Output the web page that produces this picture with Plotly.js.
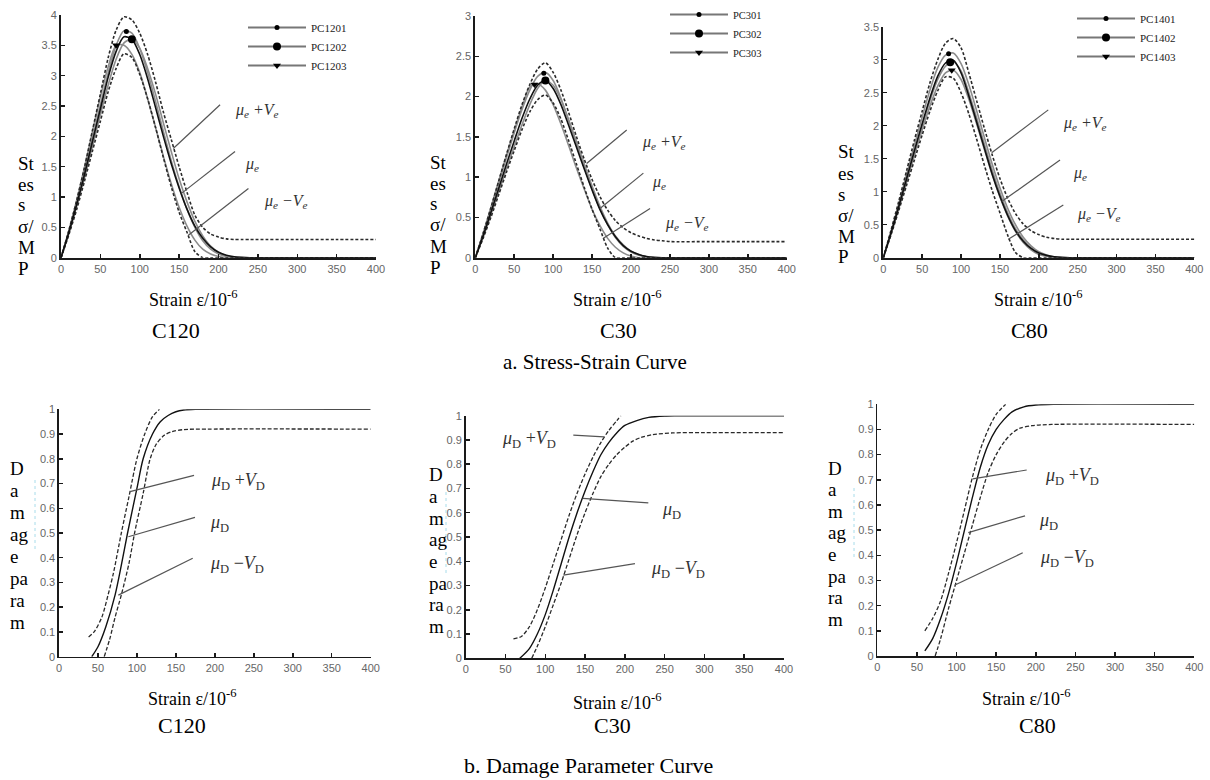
<!DOCTYPE html>
<html><head><meta charset="utf-8">
<script src="https://cdn.plot.ly/plotly-3.0.1.min.js"></script>
<style>html,body{margin:0;padding:0;background:#fff}#chart{width:1210px;height:780px}</style>
</head><body><div id="chart"></div>
<script>
// ---------- DATA ----------
const strainGrid = [0,10,20,30,40,50,60,70,80,90,100,110,120,130,140,150,160,170,180,190,200,210,220,230,240,250,300,350,400];

// C120 stress (MPa)
const c120Upper = [0,0.45,0.95,1.5,2.1,2.7,3.3,3.75,3.97,3.92,3.7,3.35,2.9,2.4,1.95,1.5,1.08,0.7,0.5,0.39,0.34,0.31,0.3,0.3,0.3,0.3,0.3,0.3,0.3];
const c120Mean  = [0,0.42,0.88,1.38,1.92,2.45,2.98,3.4,3.64,3.6,3.35,2.95,2.48,2.0,1.55,1.15,0.8,0.52,0.32,0.18,0.09,0.04,0.015,0.005,0,0,0,0,0];
const c120Lower = [0,0.38,0.8,1.27,1.76,2.25,2.74,3.12,3.36,3.3,3.02,2.62,2.15,1.65,1.17,0.75,0.42,0.1,0,0,0,0,0,0,0,0,0,0,0];
const pc1201 = [0,0.43,0.9,1.42,1.97,2.52,3.05,3.5,3.74,3.7,3.45,3.05,2.58,2.08,1.6,1.17,0.8,0.5,0.28,0.14,0.06,0.02,0,0,0,0,0,0,0];
const pc1202 = [0,0.4,0.85,1.33,1.84,2.36,2.85,3.27,3.54,3.6,3.45,3.12,2.7,2.22,1.75,1.3,0.92,0.6,0.36,0.19,0.09,0.03,0,0,0,0,0,0,0];
const pc1203 = [0,0.45,0.95,1.5,2.08,2.65,3.15,3.5,3.5,3.35,3.05,2.62,2.15,1.67,1.22,0.83,0.52,0.29,0.14,0.06,0.02,0,0,0,0,0,0,0,0];
const c120PeakX = [83,90,70];
const c120PeakY = [3.73,3.6,3.5];
const c120Names = ['PC1201','PC1202','PC1203'];

// C30 stress
const c30Upper = [0,0.3,0.62,0.95,1.28,1.6,1.9,2.15,2.34,2.42,2.3,2.08,1.8,1.5,1.22,0.97,0.76,0.59,0.46,0.37,0.31,0.27,0.24,0.22,0.21,0.2,0.2,0.2,0.2];
const c30Mean  = [0,0.27,0.56,0.86,1.16,1.45,1.73,1.97,2.14,2.2,2.1,1.9,1.64,1.37,1.1,0.84,0.6,0.41,0.26,0.15,0.08,0.04,0.015,0.005,0,0,0,0,0];
const c30Lower = [0,0.24,0.5,0.78,1.06,1.33,1.59,1.81,1.96,2.02,1.92,1.72,1.45,1.16,0.87,0.6,0.36,0.12,0,0,0,0,0,0,0,0,0,0,0];
const pc301 = [0,0.29,0.6,0.92,1.24,1.55,1.84,2.08,2.25,2.3,2.2,1.98,1.7,1.41,1.12,0.85,0.61,0.41,0.25,0.14,0.07,0.03,0.01,0,0,0,0,0,0];
const pc302 = [0,0.25,0.53,0.82,1.1,1.38,1.65,1.9,2.1,2.2,2.14,1.96,1.71,1.44,1.16,0.89,0.64,0.43,0.27,0.16,0.08,0.04,0.01,0,0,0,0,0,0];
const pc303 = [0,0.3,0.62,0.95,1.27,1.58,1.87,2.12,2.16,2.08,1.9,1.66,1.39,1.11,0.85,0.6,0.4,0.24,0.13,0.06,0.02,0,0,0,0,0,0,0,0];
const c30PeakX = [88,90,76];
const c30PeakY = [2.29,2.2,2.15];
const c30Names = ['PC301','PC302','PC303'];

// C80 stress
const c80Upper = [0,0.42,0.86,1.32,1.78,2.22,2.65,3.0,3.25,3.32,3.18,2.8,2.38,1.96,1.56,1.2,0.9,0.67,0.51,0.41,0.35,0.31,0.29,0.28,0.28,0.28,0.28,0.28,0.28];
const c80Mean  = [0,0.38,0.78,1.2,1.62,2.03,2.42,2.75,2.95,2.99,2.8,2.45,2.06,1.66,1.27,0.93,0.64,0.41,0.25,0.14,0.07,0.035,0.015,0.005,0,0,0,0,0];
const c80Lower = [0,0.35,0.72,1.1,1.48,1.86,2.22,2.53,2.74,2.72,2.5,2.18,1.8,1.4,1.02,0.68,0.34,0.08,0,0,0,0,0,0,0,0,0,0,0];
const pc1401 = [0,0.4,0.82,1.26,1.7,2.13,2.54,2.88,3.07,3.1,2.94,2.62,2.23,1.82,1.42,1.06,0.75,0.5,0.31,0.18,0.09,0.04,0.01,0,0,0,0,0,0];
const pc1402 = [0,0.37,0.77,1.18,1.6,2.0,2.38,2.7,2.9,2.97,2.83,2.5,2.12,1.72,1.33,0.98,0.68,0.44,0.27,0.15,0.07,0.03,0.01,0,0,0,0,0,0];
const pc1403 = [0,0.36,0.75,1.15,1.55,1.94,2.3,2.6,2.8,2.84,2.7,2.4,2.03,1.64,1.26,0.92,0.63,0.4,0.23,0.12,0.05,0.02,0,0,0,0,0,0,0];
const c80PeakX = [84,86,88];
const c80PeakY = [3.09,2.96,2.84];
const c80Names = ['PC1401','PC1402','PC1403'];

// Damage parameter, C120
const d120UpX = [38,45,55,63,70,80,90,100,110,120,129];
const d120UpY = [0.08,0.1,0.16,0.25,0.34,0.5,0.65,0.8,0.9,0.97,1.0];
const d120MeanX = [42,50,60,72,80,88,100,108,120,130,140,150,160,175,400];
const d120MeanY = [0,0.04,0.12,0.25,0.37,0.5,0.68,0.8,0.9,0.95,0.975,0.99,0.997,1.0,1.0];
const d120LowX = [58,65,72,80,90,97,108,117,125,135,145,160,190,400];
const d120LowY = [0,0.07,0.16,0.25,0.38,0.5,0.66,0.8,0.86,0.895,0.91,0.918,0.92,0.92];

// Damage parameter, C30
const d30UpX = [60,70,80,90,100,110,120,130,140,150,160,170,180,190,195];
const d30UpY = [0.08,0.09,0.13,0.2,0.29,0.39,0.49,0.59,0.68,0.76,0.83,0.89,0.94,0.98,1.0];
const d30MeanX = [68,80,90,100,110,120,130,140,150,160,170,180,190,200,215,230,250,265,400];
const d30MeanY = [0,0.04,0.1,0.18,0.28,0.39,0.5,0.6,0.69,0.77,0.84,0.89,0.93,0.96,0.98,0.993,0.999,1.0,1.0];
const d30LowX = [83,90,100,110,120,130,140,150,160,170,180,190,200,210,220,235,260,300,400];
const d30LowY = [0,0.05,0.13,0.22,0.31,0.41,0.51,0.6,0.68,0.75,0.8,0.84,0.87,0.895,0.91,0.922,0.929,0.93,0.93];

// Damage parameter, C80
const d80UpX = [60,70,80,90,100,110,120,130,140,150,162];
const d80UpY = [0.1,0.15,0.22,0.33,0.45,0.58,0.71,0.82,0.9,0.96,1.0];
const d80MeanX = [60,70,80,90,100,110,120,130,140,150,160,170,185,200,222,400];
const d80MeanY = [0.02,0.07,0.15,0.25,0.37,0.5,0.63,0.75,0.84,0.9,0.94,0.97,0.99,0.997,1.0,1.0];
const d80LowX = [73,80,90,100,110,120,130,140,150,160,170,180,195,220,400];
const d80LowY = [0,0.07,0.19,0.3,0.41,0.52,0.63,0.73,0.8,0.85,0.885,0.905,0.915,0.92,0.92];

// ---------- LAYOUT HELPERS ----------
const W = 1210, H = 780;
const serif = 'Liberation Serif, Times New Roman, serif';
const px = x => x / W, py = y => 1 - y / H;

function axisPair(xPx0, xPx1, yPx0, yPx1, yMax, yDtick, id) {
  const common = {showline:true, linecolor:'#1a1a1a', linewidth:2, ticks:'inside', ticklen:4,
    tickcolor:'#1a1a1a', tickwidth:1.5, showgrid:false, zeroline:false, mirror:false,
    tickfont:{family:'Liberation Sans, Arial, sans-serif', size:11, color:'#666'}, fixedrange:true};
  const xa = Object.assign({}, common, {domain:[px(xPx0), px(xPx1)], range:[0,400], dtick:50, tick0:0,
    anchor:'y'+(id===1?'':id)});
  const ya = Object.assign({}, common, {domain:[py(yPx1), py(yPx0)], range:[0,yMax], dtick:yDtick, tick0:0,
    anchor:'x'+(id===1?'':id)});
  return [xa, ya];
}

const layout = {width:W, height:H, margin:{l:0,r:0,t:0,b:0}, paper_bgcolor:'#fff', plot_bgcolor:'rgba(0,0,0,0)',
  showlegend:true, annotations:[], shapes:[]};
const panels = [
  [61,376,15,257.7,4,0.5],
  [475.3,786.7,16,257.7,3,0.5],
  [883.3,1194.3,26.7,257.7,3.5,0.5],
  [59,370.7,409.3,656.7,1,0.1],
  [465.7,784,415.7,658.3,1,0.1],
  [877.3,1194.3,404.3,656,1,0.1]
];
panels.forEach((p,i) => {
  const id = i+1;
  const [xa, ya] = axisPair(p[0],p[1],p[2],p[3],p[4],p[5],id);
  if (id >= 4) { xa.linewidth = 1.6; ya.linewidth = 1.6; }
  layout['xaxis'+(id===1?'':id)] = xa;
  layout['yaxis'+(id===1?'':id)] = ya;
});

// ---------- TRACES ----------
const traces = [];
const axRef = id => ({xaxis:'x'+(id===1?'':id), yaxis:'y'+(id===1?'':id)});
const expStyle = {color:'#8c8c8c', width:1.6, shape:'spline', smoothing:0.8};
const dashStyle = {color:'#2a2a2a', width:1.6, dash:'3px,2px', shape:'spline', smoothing:0.8};
const meanStyle = {color:'#111', width:1.6, shape:'spline', smoothing:0.8};
const symbols = [{symbol:'circle', size:5}, {symbol:'circle', size:8}, {symbol:'triangle-down', size:7}];

function stressPanel(id, exps, upper, mean, lower, peakX, peakY, names, legendId) {
  exps.forEach(ys => traces.push(Object.assign({type:'scatter', mode:'lines', x:strainGrid, y:ys,
    line:expStyle, showlegend:false, hoverinfo:'skip'}, axRef(id))));
  [upper, lower].forEach(ys => traces.push(Object.assign({type:'scatter', mode:'lines', x:strainGrid, y:ys,
    line:dashStyle, showlegend:false, hoverinfo:'skip'}, axRef(id))));
  traces.push(Object.assign({type:'scatter', mode:'lines', x:strainGrid, y:mean,
    line:meanStyle, showlegend:false, hoverinfo:'skip'}, axRef(id)));
  names.forEach((n,k) => traces.push(Object.assign({type:'scatter', mode:'lines+markers', name:n,
    x:[peakX[k]], y:[peakY[k]], line:{color:'#777', width:2},
    marker:{color:'#000', symbol:symbols[k].symbol, size:symbols[k].size},
    legend:legendId, legendgroup:n, showlegend:true, hoverinfo:'skip'}, axRef(id))));
}
stressPanel(1, [pc1201,pc1202,pc1203], c120Upper, c120Mean, c120Lower, c120PeakX, c120PeakY, c120Names, 'legend');
stressPanel(2, [pc301,pc302,pc303], c30Upper, c30Mean, c30Lower, c30PeakX, c30PeakY, c30Names, 'legend2');
stressPanel(3, [pc1401,pc1402,pc1403], c80Upper, c80Mean, c80Lower, c80PeakX, c80PeakY, c80Names, 'legend3');

function damagePanel(id, ux, uy, mx, my, lx, ly) {
  const ds = Object.assign({}, dashStyle, {width:1.3, dash:'4px,2px'});
  const ms = Object.assign({}, meanStyle, {width:1.4});
  traces.push(Object.assign({type:'scatter', mode:'lines', x:ux, y:uy, line:ds, showlegend:false, hoverinfo:'skip'}, axRef(id)));
  traces.push(Object.assign({type:'scatter', mode:'lines', x:lx, y:ly, line:ds, showlegend:false, hoverinfo:'skip'}, axRef(id)));
  traces.push(Object.assign({type:'scatter', mode:'lines', x:mx, y:my, line:ms, showlegend:false, hoverinfo:'skip'}, axRef(id)));
}
damagePanel(4, d120UpX, d120UpY, d120MeanX, d120MeanY, d120LowX, d120LowY);
damagePanel(5, d30UpX, d30UpY, d30MeanX, d30MeanY, d30LowX, d30LowY);
damagePanel(6, d80UpX, d80UpY, d80MeanX, d80MeanY, d80LowX, d80LowY);

// ---------- LEGENDS ----------
const legBase = {bgcolor:'rgba(0,0,0,0)', borderwidth:0, xanchor:'left', yanchor:'top', itemwidth:58,
  font:{family:serif, size:11, color:'#222'}, tracegroupgap:0, itemclick:false, itemdoubleclick:false};
layout.legend  = Object.assign({}, legBase, {x:px(243), y:py(13)});
layout.legend2 = Object.assign({}, legBase, {x:px(665), y:py(0), font:{family:serif, size:10.5, color:'#222'}});
layout.legend3 = Object.assign({}, legBase, {x:px(1072), y:py(4)});

// ---------- TEXT ----------
const A = layout.annotations, S = layout.shapes;
function txt(xp, yp, text, size, extra) {
  A.push(Object.assign({xref:'paper', yref:'paper', x:px(xp), y:py(yp), text:text, showarrow:false,
    xanchor:'center', yanchor:'middle', font:{family:serif, size:size, color:'#000'}}, extra||{}));
}
const strainTitle = 'Strain ε/10<sup>-6</sup>';
txt(193,298,strainTitle,18); txt(617,298,strainTitle,18); txt(1038,298,strainTitle,18);
txt(176,330,'C120',22); txt(618,330,'C30',22); txt(1029,330,'C80',22);
txt(595,362,'a. Stress-Strain Curve',21);
txt(192,697,strainTitle,18); txt(617,701,strainTitle,18); txt(1026,697,strainTitle,18);
txt(182,725,'C120',22); txt(612,725,'C30',22); txt(1037,725,'C80',22);
txt(588,765,'b. Damage Parameter Curve',22);

function yLabel(lines, xLeft, yStart, gap, size) {
  lines.forEach((l,i) => txt(xLeft, yStart + i*gap, l, size, {xanchor:'left'}));
}
const stressLines = ['St','es','s','σ/','M','P'];
const damageLines = ['D','a','m','ag','e','pa','ra','m'];
yLabel(stressLines, 16, 163, 21, 19);
yLabel(stressLines, 428, 162, 21, 19);
yLabel(stressLines, 836, 152, 21, 19);
yLabel(damageLines, 8, 468, 22, 19);
yLabel(damageLines, 427, 475, 21.6, 19);
yLabel(damageLines, 826, 468, 21.6, 19);

// curve labels and leader lines (data coordinates)
function curveLabel(id, x, y, text, size) {
  const r = axRef(id);
  A.push({xref:r.xaxis, yref:r.yaxis, x:x, y:y, text:text, showarrow:false, xanchor:'center', yanchor:'middle',
    font:{family:serif, size:size, color:'#333'}});
}
function leader(id, x0, y0, x1, y1) {
  const r = axRef(id);
  S.push({type:'line', xref:r.xaxis, yref:r.yaxis, x0:x0, y0:y0, x1:x1, y1:y1, line:{color:'#555', width:1.2}});
}
const ePlus = '<i>μ<sub>e</sub> +V<sub>e</sub></i>', eMid = '<i>μ<sub>e</sub></i>', eMinus = '<i>μ<sub>e</sub> −V<sub>e</sub></i>';
const dPlus = '<i>μ</i><sub>D</sub> +<i>V</i><sub>D</sub>', dMid = '<i>μ</i><sub>D</sub>', dMinus = '<i>μ</i><sub>D</sub> −<i>V</i><sub>D</sub>';

leader(1,202,2.52,142.6,1.8); leader(1,221,1.75,153,1.06); leader(1,238,1.14,161.7,0.37);
curveLabel(1,249.5,2.43,ePlus,16); curveLabel(1,242.5,1.53,eMid,16); curveLabel(1,286,0.92,eMinus,16);

leader(2,194.5,1.585,143,1.17); leader(2,215.9,1.05,160.2,0.61); leader(2,224.5,0.61,164.5,0.24);
curveLabel(2,243,1.43,ePlus,16); curveLabel(2,236,0.93,eMid,16); curveLabel(2,271.6,0.42,eMinus,16);

leader(3,212.2,2.24,139.4,1.59); leader(3,227.3,1.48,152.3,0.85); leader(3,231.5,0.8,160.8,0.28);
curveLabel(3,259.4,2.04,ePlus,16); curveLabel(3,253,1.28,eMid,16); curveLabel(3,277.4,0.65,eMinus,16);

leader(4,173.3,0.733,91.1,0.667); leader(4,174.5,0.563,89,0.485); leader(4,171.6,0.398,76.1,0.249);
curveLabel(4,230,0.707,dPlus,18); curveLabel(4,206.2,0.539,dMid,18); curveLabel(4,228,0.373,dMinus,18);

leader(5,135.2,0.92,173.8,0.913); leader(5,229.5,0.641,147,0.659); leader(5,212.7,0.39,122.7,0.343);
curveLabel(5,79.8,0.9,dPlus,18); curveLabel(5,258.8,0.611,dMid,18); curveLabel(5,267.2,0.367,dMinus,18);

leader(6,188.5,0.739,120.4,0.704); leader(6,186.4,0.557,114.8,0.49); leader(6,183.5,0.41,98,0.282);
curveLabel(6,245.3,0.715,dPlus,18); curveLabel(6,216.3,0.534,dMid,18); curveLabel(6,239,0.388,dMinus,18);

// faint dotted remnants beside the damage y-labels
[[35,480,550],[446,492,573],[854,488,558]].forEach(v => S.push({type:'line', xref:'paper', yref:'paper',
  x0:px(v[0]), x1:px(v[0]), y0:py(v[1]), y1:py(v[2]), line:{color:'#a8dcea', width:1, dash:'dot'}}));

Plotly.newPlot('chart', traces, layout, {staticPlot:true, displayModeBar:false});
</script>
</body></html>
